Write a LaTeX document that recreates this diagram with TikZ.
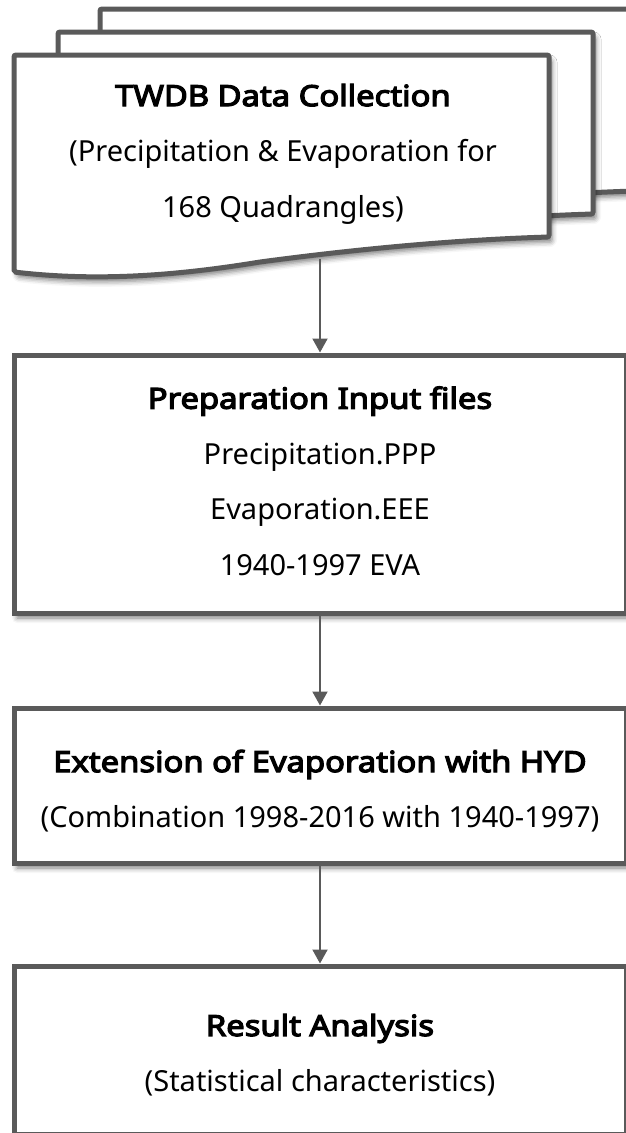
\documentclass[tikz,border=0pt]{standalone}
\usepackage{fontspec}
\setmainfont{Noto Sans}
\newfontfamily\boldsans{Noto Sans}[FakeBold=4.2,FakeStretch=1.13]
\usetikzlibrary{arrows.meta,shadows.blur}
\definecolor{edge}{HTML}{5A5A5A}
\begin{document}
\begin{tikzpicture}[x=1pt,y=-1pt,
  shade3/.style={blur shadow={shadow xshift=3pt, shadow yshift=-5pt, shadow blur radius=5pt, shadow opacity=50}},
  sheet/.style={draw=edge, line width=5pt, fill=white, rounded corners=2pt, shade3},
  procbox/.style={draw=edge, line width=5pt, fill=white, minimum width=612pt, inner sep=0pt, shade3},
  txt/.style={align=center, inner sep=0pt, font=\fontsize{29}{55.5}\selectfont},
  arr/.style={draw=edge, line width=2pt, -{Triangle[length=14pt,width=15pt]}},
  docsheet/.pic={\path[sheet] (0,0) -- (535,0) -- (535,182)
     .. controls (436,185) and (336,195) .. (246,207)
     .. controls (166,220) and (86,227) .. (0,217) -- cycle;}
]
\useasboundingbox (0,0) rectangle (626,1133);
\clip (0,0) rectangle (626,1133);
\pic at (100,9) {docsheet};
\pic at (58,32) {docsheet};
\pic at (14,55) {docsheet};
\node[txt] (doc) at (283,154) {{\boldsans TWDB Data Collection}\\(Precipitation \& Evaporation for\\168 Quadrangles)};
\coordinate (docb) at (320,259);
\node[procbox, minimum height=258pt] (prep) at (320,484) {};
\node[procbox, minimum height=155pt] (ext) at (320,785.5) {};
\node[procbox, minimum height=168pt] (res) at (320,1050) {};
\node[txt] (prept) at (320,481) {{\boldsans Preparation Input files}\\Precipitation.PPP\\Evaporation.EEE\\1940-1997 EVA};
\node[txt] (extt) at (320,791) {{\boldsans Extension of Evaporation with HYD}\\(Combination 1998-2016 with 1940-1997)};
\node[txt] (rest) at (320,1055) {{\boldsans Result Analysis}\\(Statistical characteristics)};
\draw[arr] (docb) -- (prep.north);
\draw[arr] (prep.south) -- (ext.north);
\draw[arr] (ext.south) -- (res.north);
\end{tikzpicture}
\end{document}
